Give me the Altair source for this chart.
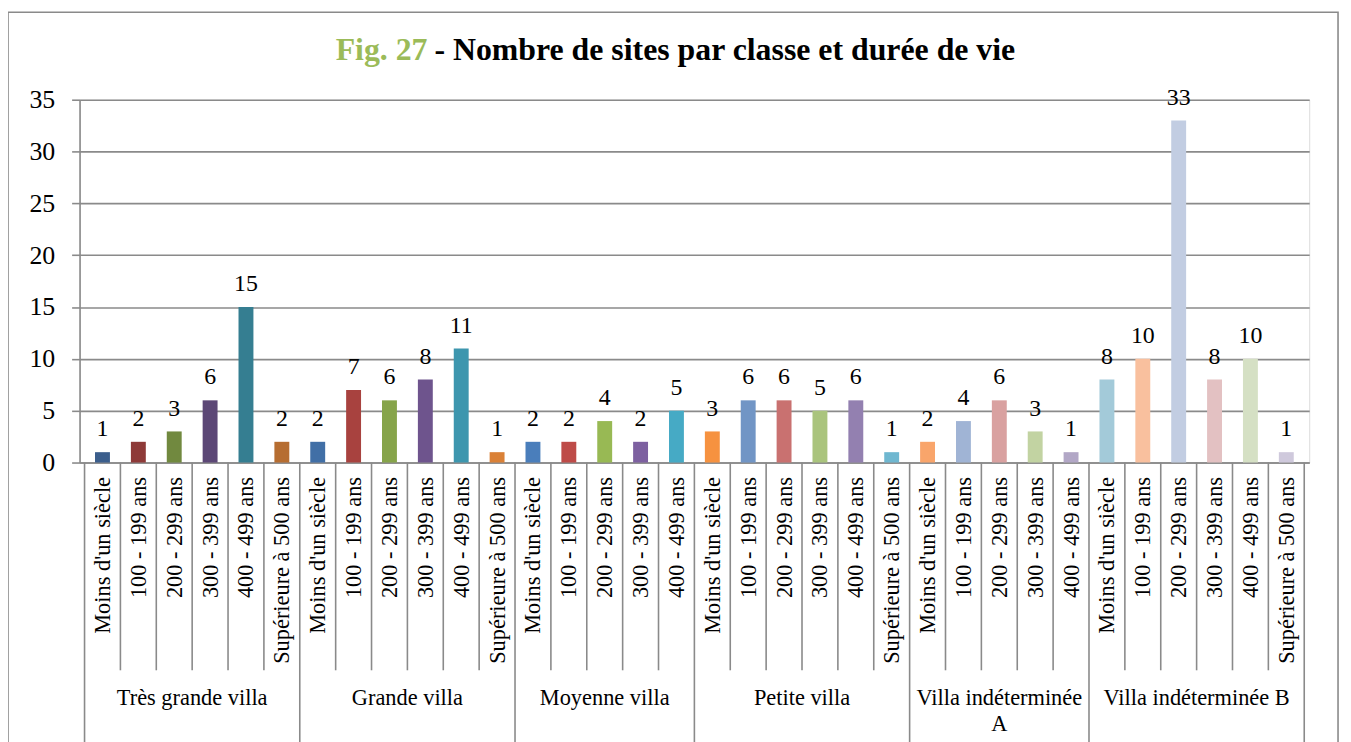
import json
import altair as alt
import pandas as pd

# ---------------- data ----------------
classes = ["Très grande villa", "Grande villa", "Moyenne villa", "Petite villa",
           "Villa indéterminée A", "Villa indéterminée B"]
class_label_lines = [["Très grande villa"], ["Grande villa"], ["Moyenne villa"],
                     ["Petite villa"], ["Villa indéterminée", "A"], ["Villa indéterminée B"]]

dur6 = ["Moins d'un siècle", "100 - 199 ans", "200 - 299 ans", "300 - 399 ans",
        "400 - 499 ans", "Supérieure à 500 ans"]
dur5 = ["Moins d'un siècle", "100 - 199 ans", "200 - 299 ans", "300 - 399 ans",
        "400 - 499 ans"]
class_durations = [dur6, dur6, dur5, dur6, dur5, dur6]

values_tres_grande = [1, 2, 3, 6, 15, 2]
values_grande = [2, 7, 6, 8, 11, 1]
values_moyenne = [2, 2, 4, 2, 5]
values_petite = [3, 6, 6, 5, 6, 1]
values_indet_a = [2, 4, 6, 3, 1]
values_indet_b = [8, 10, 33, 8, 10, 1]
class_values = [values_tres_grande, values_grande, values_moyenne,
                values_petite, values_indet_a, values_indet_b]

bar_colors = [
    "#3B5E8C", "#8E3A38", "#71893F", "#5C4776", "#357E91", "#B66D31",
    "#416FA6", "#A8423F", "#86A44A", "#6E548D", "#3D96AE", "#DA8137",
    "#4A7EBB", "#BE4B48", "#98B954", "#7D60A0", "#46AAC5",
    "#F69240", "#7195C5", "#C97170", "#AAC47D", "#9380B0", "#6FB7D0",
    "#F9A56B", "#A0B4D5", "#D9A1A0", "#C2D3A2", "#B2A7C6",
    "#A3CAD9", "#F9C09E", "#C2CDE2", "#E3C1C2", "#D5E0C4", "#CFC9DC",
]

y_ticks = [0, 5, 10, 15, 20, 25, 30, 35]

# ---------------- build tables ----------------
rows = []
group_rows = []
boundaries = [0]
i = 0
for g, (cls, durs, vals) in enumerate(zip(classes, class_durations, class_values)):
    start = i
    for d, v in zip(durs, vals):
        rows.append({"pos": i + 0.5, "label": d, "value": v,
                     "color": bar_colors[i], "classe": cls})
        i += 1
    boundaries.append(i)
    group_rows.append({"pos": (start + i) / 2, "text": class_label_lines[g]})
n = i
df = pd.DataFrame(rows)
df_groups = pd.DataFrame(group_rows)
df_cat_rules = pd.DataFrame({"pos": [k for k in range(n + 1) if k not in boundaries]})
df_grp_rules = pd.DataFrame({"pos": boundaries})
df_one = pd.DataFrame({"k": [0]})

tick_labels = [r["label"] for r in rows]
label_expr = json.dumps(tick_labels, ensure_ascii=False) + "[floor(datum.value)]"

W, H = 1237, 365
FONT = "Liberation Serif"
GRAY = "#8a8a8a"

xscale = alt.Scale(domain=[0, n], nice=False, zero=False)
yscale = alt.Scale(domain=[0, 35], nice=False)

x_axis = alt.Axis(
    values=[r["pos"] for r in rows], labelExpr=label_expr, labelAngle=-90,
    labelFont=FONT, labelFontSize=22.5, labelColor="black", labelPadding=14,
    labelOverlap=False, labelFlush=False, labelBound=False, labelLimit=400,
    ticks=False, grid=False, domain=True, domainColor=GRAY, domainWidth=1.6,
    title=None)
y_axis = alt.Axis(
    values=y_ticks, grid=True, gridColor=GRAY, gridWidth=1.6,
    domain=True, domainColor=GRAY, domainWidth=1.6,
    ticks=True, tickSize=8, tickColor=GRAY, tickWidth=1.6,
    labelFont=FONT, labelFontSize=26, labelColor="black", labelPadding=17,
    title=None)


def xenc():
    return alt.X("pos:Q", scale=xscale, axis=x_axis)


bars = alt.Chart(df).mark_bar(size=15).encode(
    x=xenc(),
    y=alt.Y("value:Q", scale=yscale, axis=y_axis),
    color=alt.Color("color:N", scale=None),
)

value_labels = alt.Chart(df).mark_text(
    font=FONT, fontSize=24, color="black", baseline="alphabetic", dy=-16
).encode(
    x=xenc(),
    y=alt.Y("value:Q", scale=yscale, axis=y_axis),
    text="value:Q",
)

cat_rules = alt.Chart(df_cat_rules).mark_rule(color=GRAY, strokeWidth=1.6).encode(
    x=xenc(),
    y=alt.value(H), y2=alt.value(H + 209),
)
grp_rules = alt.Chart(df_grp_rules).mark_rule(color=GRAY, strokeWidth=1.6).encode(
    x=xenc(),
    y=alt.value(H), y2=alt.value(H + 320),
)

group_text = alt.Chart(df_groups).mark_text(
    font=FONT, fontSize=22.5, color="black", baseline="alphabetic", align="center",
    lineHeight=26
).encode(
    x=xenc(),
    y=alt.value(H + 244),
    text="text",
)

frame = alt.Chart(df_one).mark_rect(
    fillOpacity=0, stroke=GRAY, strokeWidth=1.6
).encode(
    x=alt.value(-72), x2=alt.value(W + 29), y=alt.value(-88), y2=alt.value(H + 330),
)

title_a = alt.Chart(df_one).mark_text(
    text="Fig. 27", font=FONT, fontSize=32, fontWeight="bold", color="#9BBB59",
    align="right", baseline="middle"
).encode(x=alt.value(350), y=alt.value(-50))
title_b = alt.Chart(df_one).mark_text(
    text="- Nombre de sites par classe et durée de vie", font=FONT, fontSize=32,
    fontWeight="bold", color="black", align="left", baseline="middle"
).encode(x=alt.value(357), y=alt.value(-50))

chart = alt.layer(
    frame, bars, value_labels, cat_rules, grp_rules, group_text, title_a, title_b
).properties(
    width=W, height=H,
    padding={"left": 72, "top": 90, "right": 34, "bottom": 300},
    autosize=alt.AutoSizeParams(type="none"),
).configure_view(strokeWidth=0, stroke="transparent").configure(background="white")

chart.save("out.html", embed_options={"renderer": "svg", "actions": False})
